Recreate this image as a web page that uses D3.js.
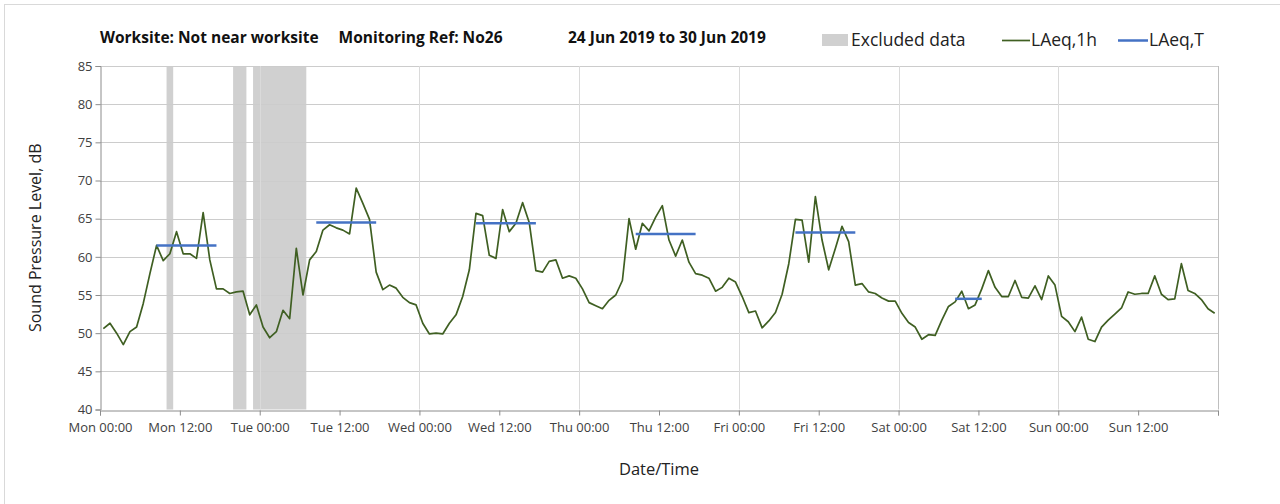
<!DOCTYPE html>
<html>
<head>
<meta charset="utf-8">
<script src="https://cdn.jsdelivr.net/npm/d3@7"></script>
<style>
  body { margin: 0; background: #fff; }
  text { font-family: "Open Sans", "Noto Sans", sans-serif; }
</style>
</head>
<body>
<script>
// hourly LAeq,1h values, Mon 00:00 .. Sun 23:00 (plotted at mid-hour)
var laeq1h = [
  50.6, 51.3, 50.0, 48.5, 50.2, 50.8, 53.9, 57.8, 61.5, 59.5,
  60.4, 63.3, 60.4, 60.4, 59.8, 65.8, 59.6, 55.8, 55.8, 55.2,
  55.4, 55.5, 52.4, 53.7, 50.8, 49.4, 50.2, 53.0, 51.9, 61.1,
  55.0, 59.6, 60.7, 63.5, 64.2, 63.8, 63.5, 63.0, 69.0, 67.0,
  64.9, 58.0, 55.7, 56.3, 55.9, 54.7, 54.0, 53.7, 51.3, 49.9,
  50.0, 49.9, 51.3, 52.4, 54.8, 58.3, 65.7, 65.4, 60.2, 59.8,
  66.2, 63.3, 64.4, 67.1, 64.5, 58.2, 58.0, 59.4, 59.6, 57.2,
  57.5, 57.2, 55.8, 54.0, 53.6, 53.2, 54.3, 55.0, 56.9, 65.0,
  61.0, 64.4, 63.4, 65.2, 66.7, 62.2, 60.1, 62.2, 59.3, 57.8,
  57.6, 57.2, 55.5, 56.0, 57.2, 56.7, 54.8, 52.7, 52.9, 50.7,
  51.6, 52.7, 55.1, 59.1, 64.9, 64.8, 59.3, 67.9, 62.2, 58.3,
  61.1, 64.0, 62.0, 56.3, 56.5, 55.4, 55.2, 54.6, 54.2, 54.2,
  52.6, 51.4, 50.8, 49.2, 49.8, 49.7, 51.7, 53.5, 54.1, 55.5,
  53.2, 53.7, 55.8, 58.2, 56.0, 54.8, 54.8, 56.9, 54.7, 54.6,
  56.2, 54.4, 57.5, 56.3, 52.2, 51.5, 50.2, 52.1, 49.2, 48.9,
  50.8, 51.7, 52.5, 53.3, 55.4, 55.1, 55.2, 55.2, 57.5, 55.1,
  54.4, 54.5, 59.1, 55.6, 55.2, 54.4, 53.2, 52.6
];

// LAeq,T periods (hours from Mon 00:00)
var periodStart = [8.5, 32.5, 56.5, 80.5, 104.5, 128.5];
var periodEnd   = [17.5, 41.5, 65.5, 89.5, 113.5, 132.5];
var periodValue = [61.5, 64.5, 64.4, 63.0, 63.2, 54.5];

// excluded data (hours)
var exclStart = [10, 20, 23];
var exclEnd   = [11, 22, 31];

var tickHours = [0, 12, 24, 36, 48, 60, 72, 84, 96, 108, 120, 132, 144, 156, 168];
var tickLabels = ["Mon 00:00", "Mon 12:00", "Tue 00:00", "Tue 12:00", "Wed 00:00", "Wed 12:00",
  "Thu 00:00", "Thu 12:00", "Fri 00:00", "Fri 12:00", "Sat 00:00", "Sat 12:00",
  "Sun 00:00", "Sun 12:00", ""];
var dayHours = [24, 48, 72, 96, 120, 144];
var yTicks = [40, 45, 50, 55, 60, 65, 70, 75, 80, 85];

var W = 1280, H = 504;
var pLeft = 100, pRight = 1218, pTop = 66, pBottom = 409.5;

var svg = d3.select("body").append("svg")
    .attr("width", W)
    .attr("height", H);

// chart border
svg.append("rect")
    .attr("x", 4.5).attr("y", 4.5)
    .attr("width", W).attr("height", H)
    .attr("fill", "none")
    .attr("stroke", "#d9d9d9");

var x = d3.scaleLinear().domain([0, 168]).range([pLeft, pRight]);
var y = d3.scaleLinear().domain([40, 85]).range([pBottom, pTop]);

// excluded bands
var bands = exclStart.map(function (s, i) { return {s: s, e: exclEnd[i]}; });
svg.selectAll("rect.excl")
    .data(bands)
    .enter()
    .append("rect")
    .attr("class", "excl")
    .attr("x", function (d) { return x(d.s); })
    .attr("y", y(85))
    .attr("width", function (d) { return x(d.e) - x(d.s); })
    .attr("height", y(40) - y(85))
    .attr("fill", "#d0d0d0");

// horizontal grid
svg.append("g")
    .selectAll("line")
    .data(yTicks.slice(1))
    .enter()
    .append("line")
    .attr("x1", pLeft).attr("x2", pRight)
    .attr("y1", function (d) { return Math.round(y(d)) + 0.5; })
    .attr("y2", function (d) { return Math.round(y(d)) + 0.5; })
    .attr("stroke", "#cccccc");

// vertical grid at each day
svg.append("g")
    .selectAll("line")
    .data(dayHours)
    .enter()
    .append("line")
    .attr("x1", function (d) { return Math.round(x(d)) + 0.5; })
    .attr("x2", function (d) { return Math.round(x(d)) + 0.5; })
    .attr("y1", y(85)).attr("y2", y(40))
    .attr("stroke", "#dadada");

// right border of plot area
svg.append("line")
    .attr("x1", pRight + 0.5).attr("x2", pRight + 0.5)
    .attr("y1", y(85)).attr("y2", y(40))
    .attr("stroke", "#bfbfbf");

// axes
var xAxis = svg.append("g")
    .attr("transform", "translate(0," + (Math.round(y(40)) + 0.5) + ")")
    .call(d3.axisBottom(x)
        .tickValues(tickHours)
        .tickSize(5)
        .tickFormat(function (d, i) { return tickLabels[i]; }));

var yAxis = svg.append("g")
    .attr("transform", "translate(" + (pLeft + 0.5) + ",0)")
    .call(d3.axisLeft(y)
        .tickValues(yTicks)
        .tickSize(5)
        .tickFormat(d3.format("d")));

[xAxis, yAxis].forEach(function (g) {
    g.select(".domain").attr("stroke", "#8c8c8c");
    g.selectAll(".tick line").attr("stroke", "#8c8c8c");
    g.selectAll(".tick text")
        .attr("fill", "#404040")
        .style("font-size", "13px")
        .style("font-family", "\"Open Sans\", sans-serif");
});
xAxis.selectAll(".tick text").attr("dy", "1.05em");
yAxis.selectAll(".tick text").attr("x", -8);

// LAeq,1h line
var line = d3.line()
    .x(function (d, i) { return x(i + 0.5); })
    .y(function (d) { return y(d); });

svg.append("path")
    .datum(laeq1h)
    .attr("fill", "none")
    .attr("stroke", "#3f5f22")
    .attr("stroke-width", 1.7)
    .attr("stroke-linejoin", "round")
    .attr("d", line);

// LAeq,T lines
var periods = periodStart.map(function (s, i) { return {s: s, e: periodEnd[i], v: periodValue[i]}; });
svg.selectAll("line.laeqt")
    .data(periods)
    .enter()
    .append("line")
    .attr("class", "laeqt")
    .attr("x1", function (d) { return x(d.s); })
    .attr("x2", function (d) { return x(d.e); })
    .attr("y1", function (d) { return y(d.v); })
    .attr("y2", function (d) { return y(d.v); })
    .attr("stroke", "#4472c4")
    .attr("stroke-width", 2.5);

// title (three parts)
var t1 = svg.append("text")
    .attr("x", 100).attr("y", 43)
    .style("font-size", "15.5px").style("font-weight", "bold")
    .attr("fill", "#111")
    .text("Worksite: Not near worksite");
var w1 = t1.node().getComputedTextLength();
svg.append("text")
    .attr("x", 100 + w1 + 20).attr("y", 43)
    .style("font-size", "15.5px").style("font-weight", "bold")
    .attr("fill", "#111")
    .text("Monitoring Ref: No26");
svg.append("text")
    .attr("x", 568).attr("y", 43)
    .style("font-size", "15.5px").style("font-weight", "bold")
    .attr("fill", "#111")
    .text("24 Jun 2019 to 30 Jun 2019");

// legend
var lg = svg.append("g");
lg.append("rect")
    .attr("x", 822).attr("y", 34)
    .attr("width", 26).attr("height", 12)
    .attr("fill", "#d0d0d0");
lg.append("text").attr("x", 851).attr("y", 46)
    .style("font-size", "17.5px").attr("fill", "#222").text("Excluded data");
lg.append("line")
    .attr("x1", 1002).attr("x2", 1030).attr("y1", 40.5).attr("y2", 40.5)
    .attr("stroke", "#3f5f22").attr("stroke-width", 1.7);
lg.append("text").attr("x", 1031).attr("y", 46)
    .style("font-size", "17.5px").attr("fill", "#222").text("LAeq,1h");
lg.append("line")
    .attr("x1", 1118).attr("x2", 1148).attr("y1", 40.5).attr("y2", 40.5)
    .attr("stroke", "#4472c4").attr("stroke-width", 2.5);
lg.append("text").attr("x", 1149).attr("y", 46)
    .style("font-size", "17.5px").attr("fill", "#222").text("LAeq,T");

// axis titles
svg.append("text")
    .attr("transform", "translate(41," + ((pTop + pBottom) / 2) + ") rotate(-90)")
    .attr("text-anchor", "middle")
    .style("font-size", "16px")
    .attr("fill", "#222")
    .text("Sound Pressure Level, dB");

svg.append("text")
    .attr("x", (pLeft + pRight) / 2)
    .attr("y", 475)
    .attr("text-anchor", "middle")
    .style("font-size", "16.5px")
    .attr("fill", "#222")
    .text("Date/Time");
</script>
</body>
</html>
